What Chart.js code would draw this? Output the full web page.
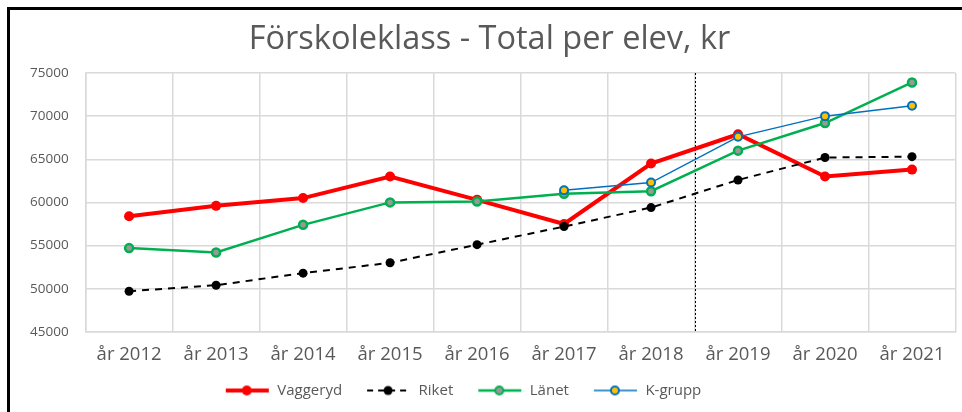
<!DOCTYPE html>
<html>
<head>
<meta charset="utf-8">
<script src="https://cdn.jsdelivr.net/npm/chart.js@4.4.1/dist/chart.umd.min.js"></script>
<style>
  html, body { margin:0; padding:0; background:#fff; }
  #wrap { position:relative; width:962px; height:412px; }
  #frame { position:absolute; left:7px; top:7px; right:0; bottom:0; border-left:3px solid #000; border-top:3px solid #000; pointer-events:none; }
</style>
</head>
<body>
<div id="wrap">
  <canvas id="c" width="962" height="412"></canvas>
  <div id="frame"></div>
</div>
<script>
// ====== DATA ======
const years = ['år 2012','år 2013','år 2014','år 2015','år 2016','år 2017','år 2018','år 2019','år 2020','år 2021'];
const vaggeryd = [58400, 59600, 60500, 63000, 60300, 57500, 64500, 67900, 63000, 63800];
const riket    = [49700, 50400, 51800, 53000, 55100, 57200, 59400, 62600, 65200, 65300];
const lanet    = [54700, 54200, 57400, 60000, 60100, 61000, 61300, 66000, 69200, 73900];
const kgrupp   = [null, null, null, null, null, 61400, 62300, 67600, 70000, 71200];
const yTicks = { min: 45000, max: 75000, step: 5000 };

const GREY = '#595959';
const FONT = '"Open Sans", sans-serif';

// legend swatch: short line with marker, blank lead-in on the left for spacing
const swatch = (color, width, dash, fill, stroke, r) => {
  const cv = document.createElement('canvas');
  cv.width = 60; cv.height = 14;
  const g = cv.getContext('2d');
  g.strokeStyle = color; g.lineWidth = width; g.setLineDash(dash);
  g.beginPath(); g.moveTo(16, 7); g.lineTo(59, 7); g.stroke();
  g.setLineDash([]);
  g.beginPath(); g.arc(37, 7, r, 0, Math.PI*2);
  g.fillStyle = fill; g.fill();
  if(stroke){ g.lineWidth = 2; g.strokeStyle = stroke; g.stroke(); }
  return cv;
};
const swatches = [
  swatch('#ff0000', 4, [], '#ff0000', null, 5),
  swatch('#000', 2, [6, 5], '#000', null, 4.5),
  swatch('#00b050', 2.5, [], '#999', '#00b050', 4),
  swatch('#0070c0', 1.5, [], '#ffc000', '#0070c0', 4)
];

// dotted divider between 2018 and 2019 (behind the lines)
const divider = {
  id: 'divider',
  beforeDatasetsDraw(chart){
    const x = chart.scales.x;
    const px = Math.round((x.getPixelForValue(6) + x.getPixelForValue(7)) / 2);
    const { top, bottom } = chart.chartArea;
    const ctx = chart.ctx;
    ctx.save();
    ctx.strokeStyle = '#000'; ctx.lineWidth = 1; ctx.setLineDash([2, 2]);
    ctx.beginPath(); ctx.moveTo(px + 0.5, top); ctx.lineTo(px + 0.5, bottom); ctx.stroke();
    ctx.restore();
  }
};

// nudge title / legend boxes off the canvas centre like the original
const nudge = {
  id: 'nudge',
  afterLayout(chart){
    const t = chart.titleBlock, l = chart.legend;
    if(t){ t.left += 5; t.right += 5; }
    if(l){ l.left -= 29; l.right -= 29; l.top -= 4; l.bottom -= 4; }
  }
};

new Chart(document.getElementById('c'), {
  type: 'line',
  data: {
    labels: years,
    datasets: [
      { label: 'Vaggeryd', data: vaggeryd, order: 3, borderColor: '#ff0000', backgroundColor: '#ff0000',
        borderWidth: 4, pointRadius: 5, pointBorderWidth: 0, pointBackgroundColor: '#ff0000' },
      { label: 'Riket', data: riket, order: 2, borderColor: '#000', backgroundColor: '#000',
        borderWidth: 2, borderDash: [7, 6], pointRadius: 4.5, pointBorderWidth: 0, pointBackgroundColor: '#000' },
      { label: 'Länet', data: lanet, order: 1, borderColor: '#00b050', backgroundColor: '#999',
        borderWidth: 2.5, pointRadius: 4, pointBorderWidth: 2.5, pointBorderColor: '#00b050', pointBackgroundColor: '#999' },
      { label: 'K-grupp', data: kgrupp, order: 0, borderColor: '#0070c0', backgroundColor: '#ffc000',
        borderWidth: 1.5, pointRadius: 4, pointBorderWidth: 2, pointBorderColor: '#0070c0', pointBackgroundColor: '#ffc000' }
    ]
  },
  options: {
    responsive: false,
    animation: false,
    layout: { padding: { left: 13, right: 6, top: 16, bottom: 0 } },
    elements: { line: { tension: 0 }, point: { pointStyle: 'circle' } },
    plugins: {
      title: { display: true, text: 'Förskoleklass - Total per elev, kr', color: GREY,
        font: { family: FONT, size: 32.5, weight: 'normal' }, padding: { top: 4, bottom: 14 } },
      legend: { position: 'bottom',
        labels: { color: GREY, font: { family: FONT, size: 15 }, usePointStyle: true, pointStyleWidth: 60,
          padding: 9, boxHeight: 14,
          generateLabels: (chart) => chart.data.datasets.map((d, i) => ({
            text: d.label, pointStyle: swatches[i], datasetIndex: i, fontColor: GREY,
            lineWidth: 0, strokeStyle: 'transparent', fillStyle: 'transparent', hidden: false
          })) } },
      tooltip: { enabled: false }
    },
    scales: {
      x: { offset: true,
        grid: { offset: true, color: '#d9d9d9', lineWidth: 1.5, drawTicks: false },
        border: { color: '#d9d9d9', width: 1.5 },
        ticks: { color: GREY, font: { family: FONT, size: 18.5 }, padding: 12, maxRotation: 0 } },
      y: { min: yTicks.min, max: yTicks.max,
        grid: { color: '#d9d9d9', lineWidth: 1.5, drawTicks: false },
        border: { color: '#d9d9d9', width: 1.5 },
        ticks: { stepSize: yTicks.step, color: GREY, font: { family: FONT, size: 13.5 }, padding: 17,
          callback: (v) => String(v) } }
    }
  },
  plugins: [divider, nudge]
});
</script>
</body>
</html>
